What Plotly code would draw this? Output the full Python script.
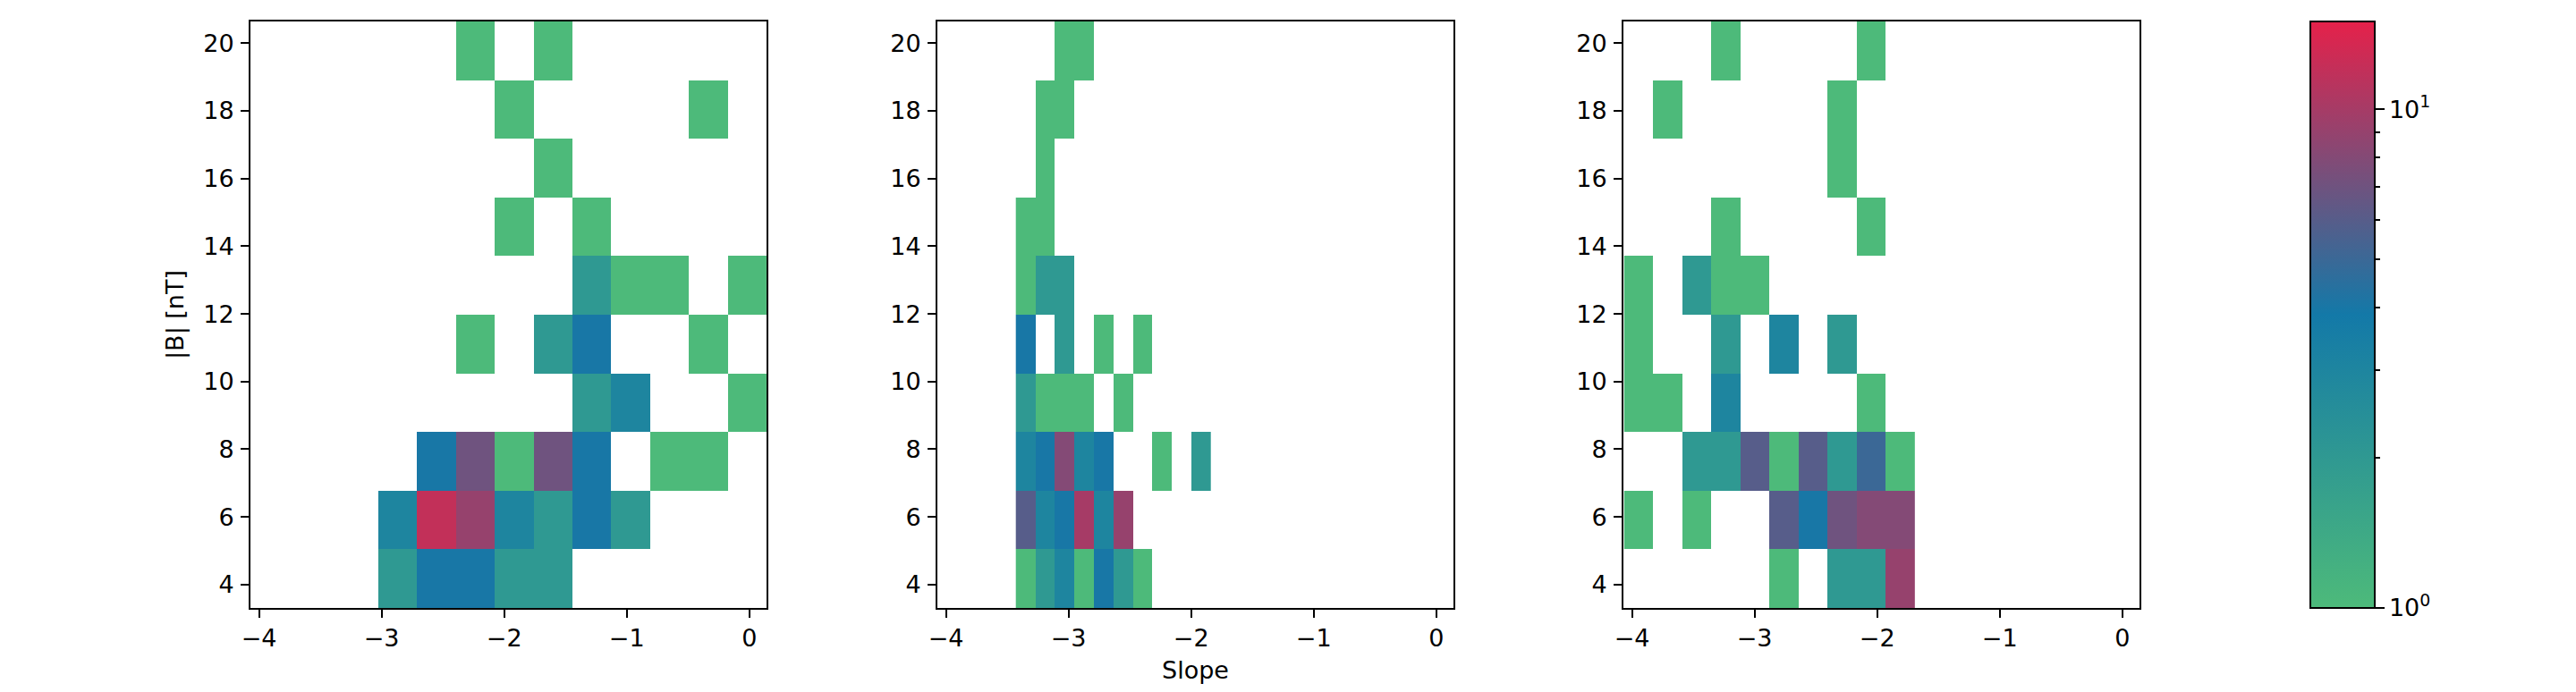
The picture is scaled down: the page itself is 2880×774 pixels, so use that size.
import numpy as np
import plotly.graph_objects as go

# Histogram bin edges
y_edges = [3.31, 5.04, 6.78, 8.51, 10.24, 11.98, 13.71, 15.44, 17.17, 18.91, 20.64]
x_edges_a = [-3.027, -2.71, -2.393, -2.076, -1.76, -1.443, -1.126, -0.809, -0.492, -0.176, 0.141]
x_edges_b = [-3.43, -3.27, -3.11, -2.95, -2.79, -2.632, -2.473, -2.313, -2.154, -1.995, -1.836]
x_edges_c = [-4.064, -3.827, -3.59, -3.353, -3.116, -2.878, -2.641, -2.404, -2.166, -1.929, -1.692]

# Counts per cell, rows listed from lowest |B| to highest
counts_a = [
    [2, 4, 4, 2, 2, 0, 0, 0, 0, 0],
    [3, 12, 9, 3, 2, 4, 2, 0, 0, 0],
    [0, 4, 7, 1, 7, 4, 0, 1, 1, 0],
    [0, 0, 0, 0, 0, 2, 3, 0, 0, 1],
    [0, 0, 1, 0, 2, 4, 0, 0, 1, 0],
    [0, 0, 0, 0, 0, 2, 1, 1, 0, 1],
    [0, 0, 0, 1, 0, 1, 0, 0, 0, 0],
    [0, 0, 0, 0, 1, 0, 0, 0, 0, 0],
    [0, 0, 0, 1, 0, 0, 0, 0, 1, 0],
    [0, 0, 1, 0, 1, 0, 0, 0, 0, 0],
]
counts_b = [
    [1, 2, 3, 1, 4, 2, 1, 0, 0, 0],
    [6, 3, 4, 10, 3, 9, 0, 0, 0, 0],
    [3, 4, 8, 3, 4, 0, 0, 1, 0, 2],
    [2, 1, 1, 1, 0, 1, 0, 0, 0, 0],
    [4, 0, 2, 0, 1, 0, 1, 0, 0, 0],
    [1, 2, 2, 0, 0, 0, 0, 0, 0, 0],
    [1, 1, 0, 0, 0, 0, 0, 0, 0, 0],
    [0, 1, 0, 0, 0, 0, 0, 0, 0, 0],
    [0, 1, 1, 0, 0, 0, 0, 0, 0, 0],
    [0, 0, 1, 1, 0, 0, 0, 0, 0, 0],
]
counts_c = [
    [0, 0, 0, 0, 0, 1, 0, 2, 2, 9],
    [1, 0, 1, 0, 0, 6, 4, 7, 8, 8],
    [0, 0, 2, 2, 6, 1, 6, 2, 5, 1],
    [1, 1, 0, 3, 0, 0, 0, 0, 1, 0],
    [1, 0, 0, 2, 0, 3, 0, 2, 0, 0],
    [1, 0, 2, 1, 1, 0, 0, 0, 0, 0],
    [0, 0, 0, 1, 0, 0, 0, 0, 1, 0],
    [0, 0, 0, 0, 0, 0, 0, 1, 0, 0],
    [0, 1, 0, 0, 0, 0, 0, 1, 0, 0],
    [0, 0, 0, 1, 0, 0, 0, 0, 1, 0],
]
count_max = 15
minor_counts = [2, 3, 4, 5, 6, 7, 8, 9]
x_ticks = [-4, -3, -2, -1, 0]
y_ticks = [4, 6, 8, 10, 12, 14, 16, 18, 20]
x_range = [-4.07, 0.14]
y_range = [3.31, 20.64]

W, H = 2880, 774
FONT = "DejaVu Sans"
FS = 27
panels = [(280, 857), (1048, 1625), (1815, 2392)]
TOP, BOTTOM = 24, 680
ydom = [(H - BOTTOM) / H, (H - TOP) / H]


def logz(c):
    a = np.array(c, dtype=float)
    a[a == 0] = np.nan
    return np.log10(a)


fig = go.Figure()
for i, (xe, c) in enumerate(zip([x_edges_a, x_edges_b, x_edges_c], [counts_a, counts_b, counts_c])):
    s = "" if i == 0 else str(i + 1)
    fig.add_trace(go.Heatmap(x=xe, y=y_edges, z=logz(c), coloraxis="coloraxis",
                             xaxis="x" + s, yaxis="y" + s, hoverongaps=False))

common = dict(showline=True, mirror=True, linecolor="black", linewidth=2, ticks="outside",
              ticklen=9, tickwidth=2, tickcolor="black", showgrid=False, zeroline=False,
              tickfont=dict(family=FONT, size=FS, color="black"))
layout = {}
for i, (l, r) in enumerate(panels):
    s = "" if i == 0 else str(i + 1)
    ax_x = dict(common, domain=[l / W, r / W], range=x_range, tickmode="array", tickvals=x_ticks,
                ticktext=["\u2212" + str(-t) if t < 0 else str(t) for t in x_ticks],
                anchor="y" + s, ticklabelstandoff=0)
    ax_y = dict(common, domain=ydom, range=y_range, tickmode="array", tickvals=y_ticks,
                anchor="x" + s, ticklabelstandoff=2)
    layout["xaxis" + s] = ax_x
    layout["yaxis" + s] = ax_y
layout["yaxis"]["title"] = dict(text="|B| [nT]", font=dict(family=FONT, size=FS, color="black"), standoff=14)
layout["xaxis2"]["title"] = dict(text="Slope", font=dict(family=FONT, size=FS, color="black"), standoff=12)

# Minor colorbar ticks on an overlay axis lined up with the colorbar
CB_L, CB_R = 2583, 2655
fig.add_trace(go.Scatter(x=[0], y=[0], mode="markers", marker=dict(opacity=0), hoverinfo="skip",
                         showlegend=False, xaxis="x4", yaxis="y4"))
layout["xaxis4"] = dict(domain=[CB_L / W, CB_R / W], visible=False, anchor="y4", range=[0, 1])
layout["yaxis4"] = dict(domain=ydom, anchor="x4", side="right", range=[0, float(np.log10(count_max))],
                        tickmode="array", tickvals=np.log10(minor_counts).tolist(), ticks="outside",
                        ticklen=5, tickwidth=1.5, tickcolor="black", showticklabels=False,
                        showgrid=False, zeroline=False, showline=False)

fig.update_layout(
    width=W, height=H, paper_bgcolor="white", plot_bgcolor="white", showlegend=False,
    margin=dict(l=0, r=0, t=0, b=0, autoexpand=False),
    coloraxis=dict(
        cmin=0, cmax=float(np.log10(count_max)),
        colorscale=[[0, "#4DBA7A"], [0.5, "#1379A8"], [1, "#E5214A"]],
        colorbar=dict(
            x=CB_L / W, xanchor="left", y=ydom[0], yanchor="bottom", len=ydom[1] - ydom[0],
            lenmode="fraction", thickness=72, thicknessmode="pixels", xpad=0, ypad=0,
            outlinewidth=2, outlinecolor="black", tickmode="array", tickvals=[0, 1],
            ticktext=["10<sup>0</sup>", "10<sup>1</sup>"], ticks="outside", ticklen=10, tickwidth=2,
            tickcolor="black", tickfont=dict(family=FONT, size=FS, color="black"),
        ),
    ),
    **layout,
)
fig.write_html("out.html", post_script="document.body.style.margin='0';",
               config={"displayModeBar": False})
